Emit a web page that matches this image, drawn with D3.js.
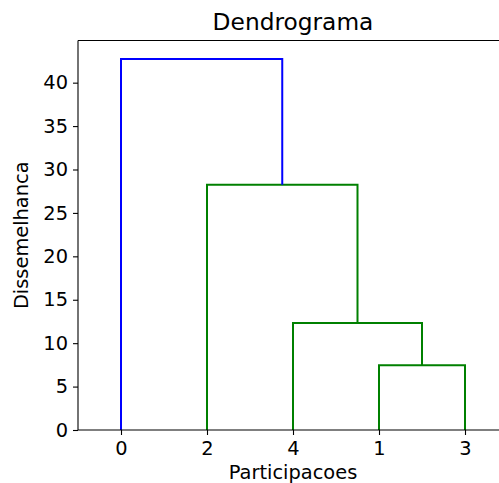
<!DOCTYPE html>
<html>
<head>
<meta charset="utf-8">
<script src="https://cdn.jsdelivr.net/npm/d3@7/dist/d3.min.js"></script>
<style>
  html, body { margin: 0; padding: 0; background: #fff; overflow: hidden; }
  svg { display: block; }
  text { font-family: "DejaVu Sans", sans-serif; fill: #000; }
</style>
</head>
<body>
<script>
// Leaf labels in dendrogram order
const leafLabels = ["0", "2", "4", "1", "3"];
// Linkage steps: indices refer to leaves (0..4, by label) or earlier clusters (5..)
const mergeLeft   = [1, 4, 2, 0];
const mergeRight  = [3, 5, 6, 7];
const mergeHeight = [7.47, 12.33, 28.24, 42.72];
const yTicks = [0, 5, 10, 15, 20, 25, 30, 35, 40];

const W = 499, H = 483;
const margin = { left: 78, top: 40.5 };
const plotW = 430, plotH = 389.5;

const svg = d3.select("body").append("svg")
  .attr("width", W).attr("height", H);

const maxH = d3.max(mergeHeight);
const x = d3.scaleLinear().domain([0, leafLabels.length * 10]).range([margin.left, margin.left + plotW]);
const y = d3.scaleLinear().domain([0, maxH * 1.05]).range([margin.top + plotH, margin.top]);

// leaf x positions (scipy style: 5, 15, 25, ...)
const pos = {};
const hgt = {};
leafLabels.forEach((lab, i) => { pos[+lab] = 5 + 10 * i; hgt[+lab] = 0; });

const threshold = 0.7 * maxH;
const n = leafLabels.length;
const links = [];
mergeHeight.forEach((h, i) => {
  const a = mergeLeft[i], b = mergeRight[i];
  const xa = pos[a], xb = pos[b];
  links.push({ xa, xb, ya: hgt[a], yb: hgt[b], h, color: h < threshold ? "#008000" : "#0000ff" });
  pos[n + i] = (xa + xb) / 2;
  hgt[n + i] = h;
});

const g = svg.append("g");
g.selectAll("path.link").data(links).enter().append("path")
  .attr("class", "link")
  .attr("fill", "none")
  .attr("stroke", d => d.color)
  .attr("stroke-width", 2)
  .attr("d", d => `M${x(d.xa)},${y(d.ya)}V${y(d.h)}H${x(d.xb)}V${y(d.yb)}`);

// spines
const sp = svg.append("g").attr("stroke", "#000").attr("stroke-width", 1.1).attr("fill", "none");
sp.append("line").attr("x1", margin.left).attr("x2", margin.left).attr("y1", margin.top).attr("y2", margin.top + plotH);
sp.append("line").attr("x1", margin.left).attr("x2", margin.left + plotW).attr("y1", margin.top + plotH).attr("y2", margin.top + plotH);
sp.append("line").attr("x1", margin.left).attr("x2", margin.left + plotW).attr("y1", margin.top).attr("y2", margin.top);
sp.append("line").attr("x1", margin.left + plotW).attr("x2", margin.left + plotW).attr("y1", margin.top).attr("y2", margin.top + plotH);

// y axis
const yAxis = d3.axisLeft(y).tickValues(yTicks).tickSize(5).tickPadding(5);
const ya = svg.append("g").attr("transform", `translate(${margin.left},0)`).call(yAxis);
ya.select(".domain").remove();
ya.selectAll(".tick line").attr("stroke", "#000").attr("stroke-width", 1.1);
ya.selectAll(".tick text").style("font-family", "DejaVu Sans").style("font-size", "19.4px").attr("fill", "#000");

// x axis with leaf labels
const leafPos = leafLabels.map((_, i) => 5 + 10 * i);
const xAxis = d3.axisBottom(x).tickValues(leafPos).tickFormat((d, i) => leafLabels[i]).tickSize(5).tickPadding(6);
const xa = svg.append("g").attr("transform", `translate(0,${margin.top + plotH})`).call(xAxis);
xa.select(".domain").remove();
xa.selectAll(".tick line").attr("stroke", "#000").attr("stroke-width", 1.1);
xa.selectAll(".tick text").style("font-family", "DejaVu Sans").style("font-size", "19.4px").attr("fill", "#000");

// title and axis labels
svg.append("text").attr("x", margin.left + plotW / 2).attr("y", 30)
  .attr("text-anchor", "middle").style("font-size", "23.3px").text("Dendrograma");
svg.append("text").attr("x", margin.left + plotW / 2).attr("y", 479)
  .attr("text-anchor", "middle").style("font-size", "19.4px").text("Participacoes");
svg.append("text").attr("transform", `translate(28,${margin.top + plotH / 2}) rotate(-90)`)
  .attr("text-anchor", "middle").style("font-size", "19.4px").text("Dissemelhanca");
</script>
</body>
</html>
